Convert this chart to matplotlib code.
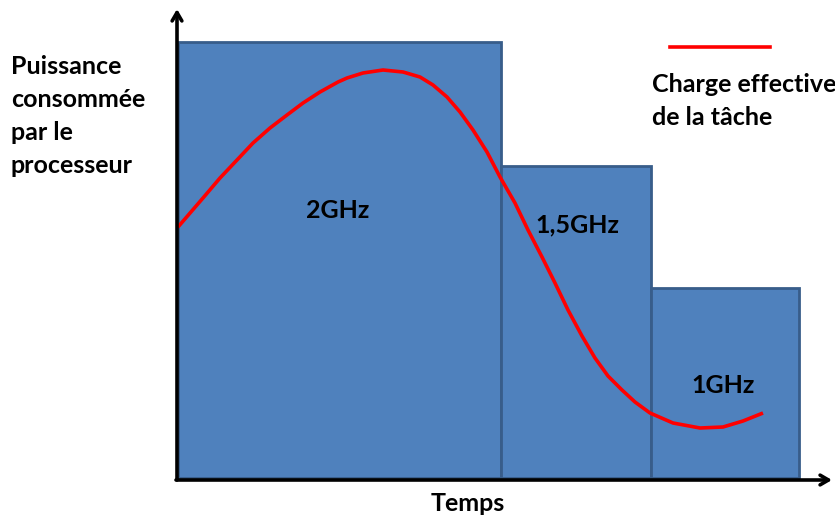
import matplotlib.pyplot as plt

# Frequency steps: bar edges along the time axis and power level of each step
step_edges = [0.0, 3.23, 4.73, 6.21]
step_power = [4.36, 3.12, 1.90]
step_labels = ["2GHz", "1,5GHz", "1GHz"]

# Effective load of the task over time
load_t = [0.00, 0.25, 0.42, 0.59, 0.75, 0.92, 1.09, 1.25, 1.42, 1.60, 1.69,
          1.85, 2.05, 2.25, 2.42, 2.55, 2.69, 2.82, 2.95, 3.09, 3.22, 3.37,
          3.50, 3.64, 3.77, 3.90, 4.04, 4.17, 4.30, 4.44, 4.57, 4.72, 4.95,
          5.22, 5.45, 5.65, 5.85]
load_p = [2.51, 2.80, 3.00, 3.18, 3.35, 3.50, 3.63, 3.75, 3.86, 3.96, 4.00,
          4.05, 4.08, 4.06, 4.01, 3.93, 3.81, 3.66, 3.48, 3.26, 3.01, 2.75,
          2.48, 2.21, 1.95, 1.68, 1.42, 1.20, 1.02, 0.88, 0.76, 0.65, 0.55,
          0.50, 0.51, 0.57, 0.65]

ylabel_lines = ["Puissance", "consommée", "par le", "processeur"]
legend_lines = ["Charge effective", "de la tâche"]

BAR = "#4F81BD"
EDGE = "#385D8A"
RED = "#FF0000"
FONT = ["Lato", "DejaVu Sans"]

fig = plt.figure(figsize=(8.35, 5.18), dpi=100)
ax = fig.add_axes([0, 0, 1, 1])
ax.set_xlim(-1.78, 6.57)
ax.set_ylim(-0.40, 4.78)
ax.axis("off")

widths = [b - a for a, b in zip(step_edges[:-1], step_edges[1:])]
ax.bar(step_edges[:-1], step_power, width=widths, align="edge",
       color=BAR, edgecolor=EDGE, linewidth=2, zorder=1)

ax.plot(load_t, load_p, color=RED, lw=2.6, solid_joinstyle="round",
        solid_capstyle="butt", zorder=3)

# axes drawn as arrows
arrow = dict(arrowstyle="->,head_length=0.6,head_width=0.35", color="black",
             lw=2.6, shrinkA=0, shrinkB=0)
ax.annotate("", xy=(-0.01, 4.69), xytext=(-0.01, -0.02), arrowprops=arrow, zorder=4)
ax.annotate("", xy=(6.54, -0.02), xytext=(-0.02, -0.02), arrowprops=arrow, zorder=4)

text_kw = dict(family=FONT, fontweight="bold", fontsize=18, color="black")

# frequency labels inside each step
label_pos = [(1.60, 2.60), (3.99, 2.46), (5.45, 0.85)]
for (x, y), lab in zip(label_pos, step_labels):
    ax.text(x, y, lab, ha="center", va="baseline", zorder=5, **text_kw)

for i, line in enumerate(ylabel_lines):
    ax.text(-1.67, 4.04 - 0.33 * i, line, ha="left", va="baseline", **text_kw)
ax.text(2.90, -0.33, "Temps", ha="center", va="baseline", **text_kw)

# legend for the load curve
ax.plot([4.92, 5.92], [4.31, 4.31], color=RED, lw=2.6)
for i, line in enumerate(legend_lines):
    ax.text(4.74, 3.86 - 0.33 * i, line, ha="left", va="baseline", **text_kw)

fig.savefig("out.png", dpi=100)
